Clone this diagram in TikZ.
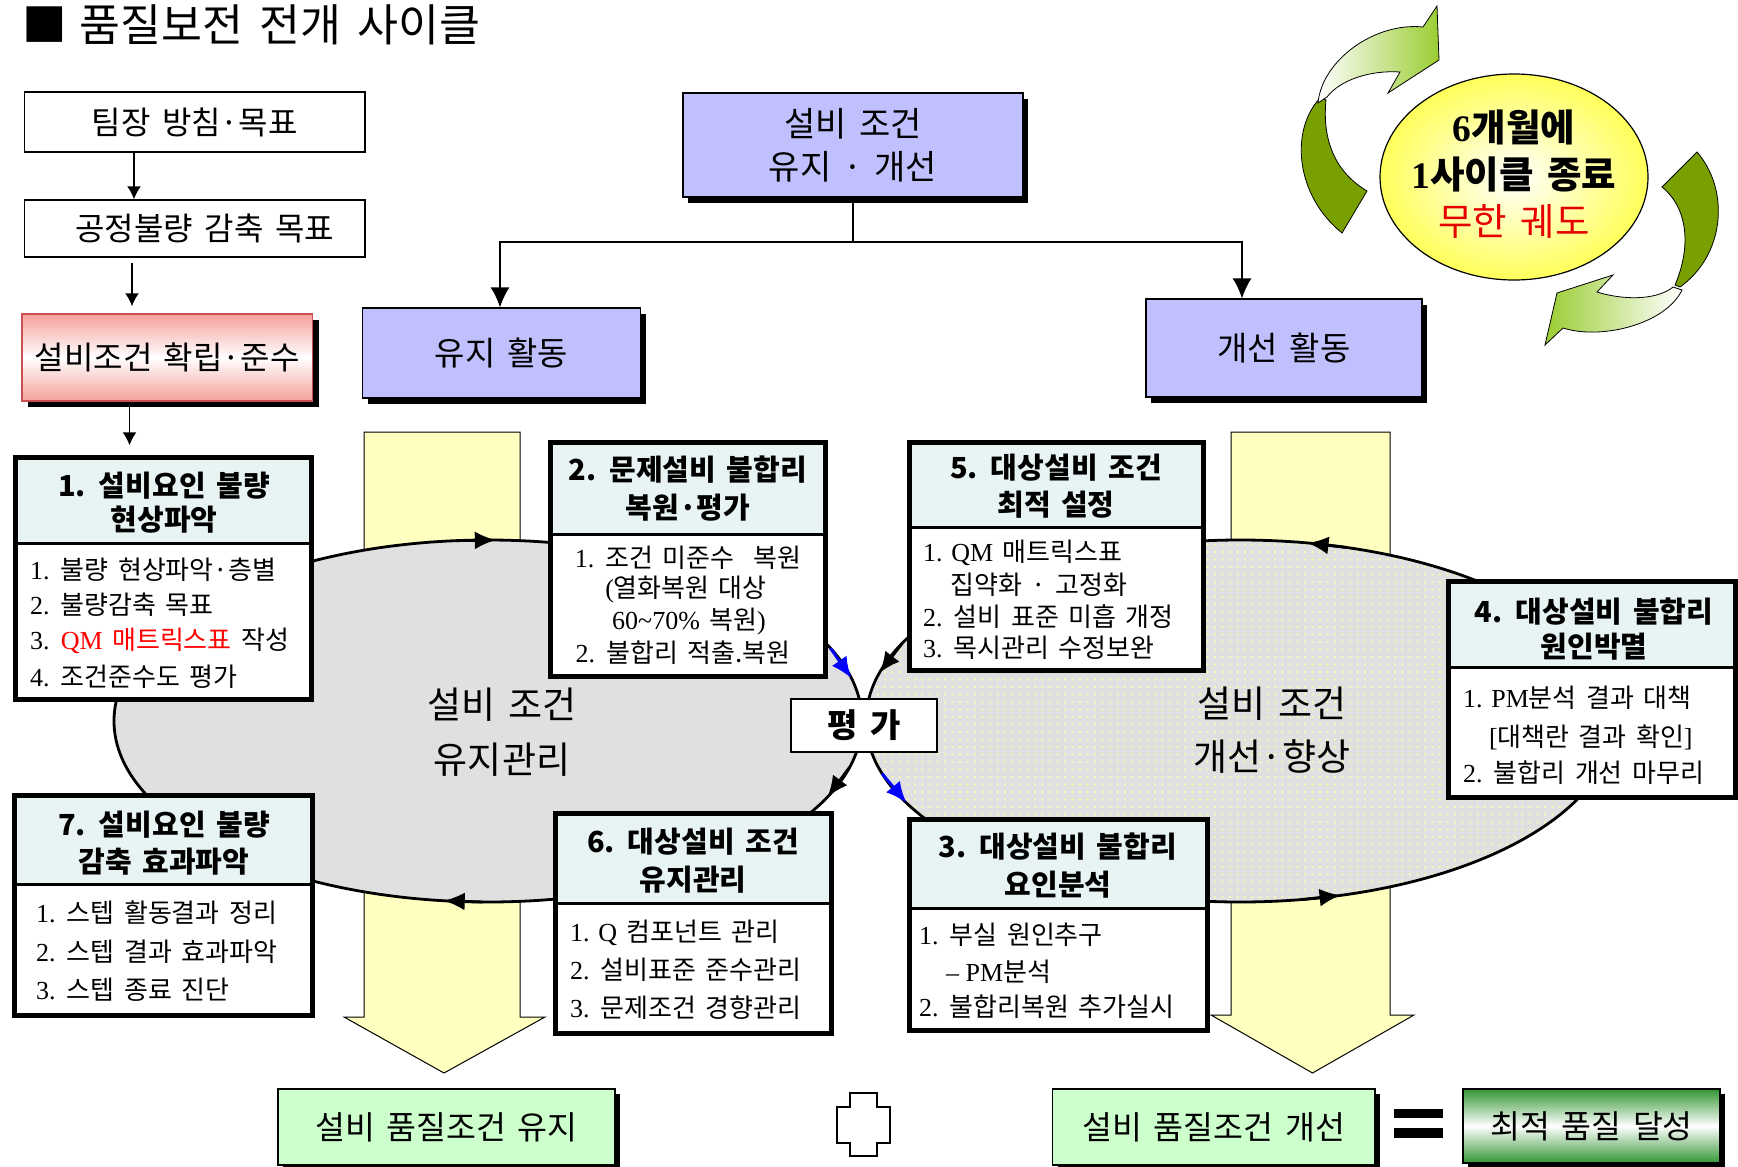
\documentclass[tikz,border=0pt]{standalone}
\usepackage{fontspec}
\setmainfont{Noto Sans CJK KR}[WordSpace=1.6]
\newfontfamily\tnr{Liberation Serif}
\usetikzlibrary{arrows.meta,shadows,patterns.meta,calc,shapes.geometric}
\definecolor{lav}{RGB}{192,192,255}
\definecolor{hdr}{RGB}{232,244,244}
\definecolor{ylw}{RGB}{255,255,192}
\definecolor{elgray}{RGB}{224,224,224}
\definecolor{ltgreen}{RGB}{204,255,204}
\definecolor{dkgreen}{RGB}{51,150,51}
\definecolor{pinkc}{RGB}{244,160,154}
\definecolor{pinkb}{RGB}{200,80,80}
\definecolor{olive}{RGB}{120,160,0}
\definecolor{ygreen}{RGB}{154,205,50}
\definecolor{dotyel}{RGB}{255,255,160}
\definecolor{ered}{RGB}{230,0,0}
\definecolor{yelell}{RGB}{255,255,90}
\newcommand\fsz[2]{\fontsize{#1}{#2}\selectfont}
\newcommand\NumBox[6]{%
  \node[fill=white, minimum width={#4-#2}, minimum height={#5-#3}] (#1) at ({(#2+#4)/2},{(#3+#5)/2}) {};
  \coordinate (#1d) at (0,#6);
  \fill[hdr] (#1.north west) rectangle (#1.east |- #1d);
  \draw[line width=3pt] (#1.west |- #1d) -- (#1.east |- #1d);
  \draw[line width=5pt] (#1.north west) rectangle (#1.south east);}
\newcommand\EArc[4]{%
  \draw[line width=2.8pt, draw=#4, -{Latex[length=21pt,width=18pt]}] ($(#1)+(#2:374 and 181)$) -- ($(#1)+(#3:374 and 181)$);}
\begin{document}
\begin{tikzpicture}[x=1pt,y=-1pt,
  every node/.style={inner sep=0pt},
  thinbox/.style={draw=black, line width=1.5pt, fill=white},
  lavbox/.style={draw=black, line width=1.2pt, fill=lav, general shadow={fill=black, shadow xshift=5pt, shadow yshift=-6pt}},
  grbox/.style={draw=black, line width=1.5pt, general shadow={fill=black, shadow xshift=5pt, shadow yshift=-5pt}},
  conn/.style={draw=black, line width=1.5pt},
  bigarrow/.style={-{Latex[length=20pt,width=19pt]}},
  smallarrow/.style={-{Latex[length=13pt,width=14pt]}},
  hdrtxt/.style={align=center},
  bodytxt/.style={anchor=west, font=\fsz{26}{30}},
  ctrtxt/.style={anchor=center, font=\fsz{26}{30}},
  yarrow/.style={fill=ylw, draw=black, line width=1pt}]
\path[use as bounding box, fill=white] (0,0) rectangle (1738,1167);

% title
\node[anchor=west, font=\fsz{44.5}{50}] (title) at (22,25) {■\hspace{13pt}품질보전 전개 사이클};

% left chain
\node[thinbox, minimum width=340.5pt, minimum height=60pt, font=\fsz{32}{36}] (A) at (194.75,122) {팀장 방침·목표};
\node[thinbox, minimum width=340.5pt, minimum height=57pt, font=\fsz{32}{36}] (B) at (194.75,228.5) {\hspace*{20pt}공정불량 감축 목표};
\node[draw=pinkb, line width=1.5pt, top color=pinkc, bottom color=pinkc, middle color=white, minimum width=290.5pt, minimum height=87pt, general shadow={fill=black, shadow xshift=6pt, shadow yshift=-6pt}, font=\fsz{32}{36}] (C) at (167.25,357.5) {설비조건 확립·준수};
\coordinate (xab) at (134,0);
\coordinate (xbc) at (132,0);
\coordinate (xc1) at (129.5,0);

% top centre
\node[lavbox, minimum width=340pt, minimum height=104pt, align=center, font=\fsz{34}{43}] (top) at (853,145) {설비 조건\\유지 · 개선};
\node[lavbox, minimum width=278pt, minimum height=90pt, font=\fsz{33}{36}] (keep) at (501.5,353) {유지 활동};
\node[lavbox, minimum width=276pt, minimum height=98pt, font=\fsz{33}{36}] (improve) at (1284,348) {개선 활동};
\coordinate (hubL) at (500,242);
\coordinate (hubR) at (1242,242);
\draw[conn] (top.south) -- (top.south |- hubL);
\draw[conn, bigarrow] (top.south |- hubL) -- (hubL) -- (hubL |- keep.north);
\draw[conn, bigarrow] (top.south |- hubL) -- (hubR) -- (hubR |- improve.north);

% yellow block arrows
\filldraw[yarrow] (364,432) -- (520,432) -- (520,1017) -- (545,1017) -- (444,1073) -- (344,1017) -- (364,1017) -- cycle;
\filldraw[yarrow] (1231,432) -- (1390,432) -- (1390,1015) -- (1414,1015) -- (1312.5,1073) -- (1211,1015) -- (1231,1015) -- cycle;

% ellipses
\coordinate (lc) at (488,721);
\coordinate (rc) at (1240,721);
\fill[elgray] (lc) ellipse [x radius=374, y radius=181];
\fill[elgray] (rc) ellipse [x radius=374, y radius=181];
\fill[pattern={Dots[distance=7.5pt, radius=1.1pt]}, pattern color=dotyel] (rc) ellipse [x radius=374, y radius=181];
\draw[line width=2.8pt] (lc) ellipse [x radius=374, y radius=181];
\draw[line width=2.8pt] (rc) ellipse [x radius=374, y radius=181];
\EArc{lc}{-94.8}{-88.8}{black}
\EArc{lc}{90.8}{96.8}{black}
\EArc{lc}{-23.7}{-13.7}{blue}
\EArc{lc}{14.8}{24.8}{black}
\EArc{rc}{-73.6}{-79.6}{black}
\EArc{rc}{80.4}{74.4}{black}
\EArc{rc}{205.4}{195.4}{black}
\EArc{rc}{163.1}{153.1}{blue}

\node[align=center, font=\fsz{37}{55}] (lmgmt) at (502,732) {설비 조건\\유지관리};
\node[align=center, font=\fsz{37}{53}] (rmgmt) at (1272,730) {설비 조건\\개선·향상};

% chain arrows
\draw[conn, smallarrow] (A.south -| xab) -- (B.north -| xab);
\draw[conn, smallarrow, shorten <=5pt, shorten >=7pt] (B.south -| xbc) -- (C.north -| xbc);

% numbered boxes
\NumBox{b1}{16}{457.5}{311.5}{699.5}{543}
\NumBox{b2}{550.5}{442.5}{825.5}{676.5}{534}
\NumBox{b5}{909.5}{442.5}{1203.5}{670.5}{527}
\NumBox{b4}{1448.5}{581.5}{1735.5}{797.5}{667}
\NumBox{b7}{15}{795.5}{312.5}{1015.5}{884}
\NumBox{b6}{555.5}{813.5}{831.5}{1033.5}{903}
\NumBox{b3}{909.5}{819.5}{1207.5}{1030.5}{908}
\draw[conn, smallarrow, shorten >=12pt] (C.south -| xc1) -- (b1.north -| xc1);

\node[hdrtxt, font=\bfseries\fsz{29}{34}] (b1h) at (164,503) {1. 설비요인 불량\\현상파악};
\node[hdrtxt, font=\bfseries\fsz{29}{38}] (b2h) at (688,489) {2. 문제설비 불합리\\복원·평가};
\node[hdrtxt, font=\bfseries\fsz{29}{37}] (b5h) at (1056,486.5) {5. 대상설비 조건\\최적 설정};
\node[hdrtxt, font=\bfseries\fsz{29}{35}] (b4h) at (1594,629.5) {4. 대상설비 불합리\\원인박멸};
\node[hdrtxt, font=\bfseries\fsz{29}{37}] (b7h) at (164,843.5) {7. 설비요인 불량\\감축 효과파악};
\node[hdrtxt, font=\bfseries\fsz{29}{38}] (b6h) at (693,861) {6. 대상설비 조건\\유지관리};
\node[hdrtxt, font=\bfseries\fsz{29}{38}] (b3h) at (1058,866) {3. 대상설비 불합리\\요인분석};

% box 1 body
\node[bodytxt] (b1a) at (30,570) {{\tnr 1.} 불량 현상파악·층별};
\node[bodytxt] (b1b) at (30,605) {{\tnr 2.} 불량감축 목표};
\node[bodytxt] (b1c) at (30,641) {{\tnr 3.} \textcolor{red}{{\tnr QM} 매트릭스표} 작성};
\node[bodytxt] (b1e) at (30,677) {{\tnr 4.} 조건준수도 평가};
% box 2 body
\node[ctrtxt] (b2a) at (688,558) {{\tnr 1.} 조건 미준수\ \ 복원};
\node[ctrtxt] (b2b) at (686,590) {{\tnr (}열화복원 대상};
\node[ctrtxt] (b2c) at (689,622) {{\tnr 60\textasciitilde70\%} 복원{\tnr )}};
\node[ctrtxt] (b2e) at (683,653) {{\tnr 2.} 불합리 적출.복원};
% box 5 body
\node[bodytxt] (b5a) at (923,553) {{\tnr 1. QM} 매트릭스표};
\node[bodytxt] (b5b) at (950,585) {집약화 · 고정화};
\node[bodytxt] (b5c) at (923,617) {{\tnr 2.} 설비 표준 미흡 개정};
\node[bodytxt] (b5e) at (923,648) {{\tnr 3.} 목시관리 수정보완};
% box 4 body
\node[bodytxt] (b4a) at (1463,698) {{\tnr 1. PM}분석 결과 대책};
\node[bodytxt] (b4b) at (1489,737) {{\tnr [}대책란 결과 확인{\tnr ]}};
\node[bodytxt] (b4c) at (1463,773) {{\tnr 2.} 불합리 개선 마무리};
% box 7 body
\node[bodytxt] (b7a) at (36,913) {{\tnr 1.} 스텝 활동결과 정리};
\node[bodytxt] (b7b) at (36,952) {{\tnr 2.} 스텝 결과 효과파악};
\node[bodytxt] (b7c) at (36,990) {{\tnr 3.} 스텝 종료 진단};
% box 6 body
\node[bodytxt] (b6a) at (570,933) {{\tnr 1. Q} 컴포넌트 관리};
\node[bodytxt] (b6b) at (570,970) {{\tnr 2.} 설비표준 준수관리};
\node[bodytxt] (b6c) at (570,1008) {{\tnr 3.} 문제조건 경향관리};
% box 3 body
\node[bodytxt] (b3a) at (919,935) {{\tnr 1.} 부실 원인추구};
\node[bodytxt] (b3b) at (946,972) {{\tnr – PM}분석};
\node[bodytxt] (b3c) at (919,1007) {{\tnr 2.} 불합리복원 추가실시};

% evaluation
\node[thinbox, line width=2pt, minimum width=146pt, minimum height=53pt, font=\bfseries\fsz{33}{36}] (eval) at (864,725.5) {평 가};

% cycle arrows
\filldraw[fill=olive, draw=black, line width=0.8pt] (1342,233) .. controls (1295,195) and (1290,130) .. (1320,98) -- (1326,100) .. controls (1322,140) and (1335,172) .. (1367,191) -- cycle;
\shadedraw[left color=white, right color=ygreen, draw=black, line width=0.8pt] (1318,103) .. controls (1322,60) and (1375,22) .. (1423,27) -- (1437,6) -- (1439,60) -- (1388,93) -- (1400,72) .. controls (1370,70) and (1340,80) .. (1327,97) -- cycle;
\filldraw[fill=olive, draw=black, line width=0.8pt] (1697,152) .. controls (1730,190) and (1725,255) .. (1680,287) -- (1675,285) .. controls (1690,250) and (1690,210) .. (1662,187) -- cycle;
\shadedraw[left color=ygreen, right color=white, draw=black, line width=0.8pt] (1682,290) .. controls (1665,325) and (1600,340) .. (1563,328) -- (1545,345) -- (1557,293) -- (1613,275) -- (1597,292) .. controls (1630,302) and (1660,298) .. (1673,287) -- cycle;
\node[ellipse, draw=black, line width=1.2pt, inner color=white, outer color=yelell, minimum width=268pt, minimum height=206pt] (cyc) at (1514,177) {};
\node[align=center, font=\fsz{37.5}{47}] (cyctxt) at (1514,173.75) {{\bfseries{\tnr\bfseries 6}개월에}\\{\bfseries{\tnr\bfseries 1}사이클 종료}\\\textcolor{ered}{무한 궤도}};

% results
\node[grbox, fill=ltgreen, minimum width=337pt, minimum height=76pt, font=\fsz{32.5}{36}] (res1) at (446.5,1127) {설비 품질조건 유지};
\node[grbox, fill=ltgreen, minimum width=322.5pt, minimum height=76pt, font=\fsz{32.5}{36}] (res2) at (1213.75,1127) {설비 품질조건 개선};
\node[grbox, top color=dkgreen, bottom color=dkgreen, middle color=white, minimum width=257pt, minimum height=74pt, font=\fsz{32.5}{36}] (res3) at (1591.5,1126) {최적 품질 달성};
\filldraw[fill=white, draw=black, line width=2pt] (850,1093) -- (877,1093) -- (877,1107) -- (890,1107) -- (890,1143) -- (877,1143) -- (877,1156) -- (850,1156) -- (850,1143) -- (837,1143) -- (837,1107) -- (850,1107) -- cycle;
\fill[black] (1394,1109) rectangle (1443,1118);
\fill[black] (1394,1128) rectangle (1443,1138);
\end{tikzpicture}
\end{document}
